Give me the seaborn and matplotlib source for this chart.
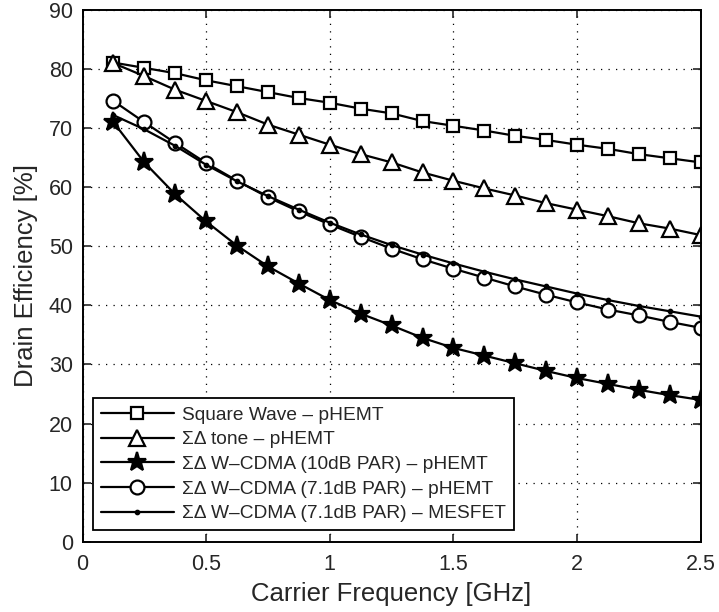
import numpy as np
import pandas as pd
import matplotlib
matplotlib.use("Agg")
import matplotlib.pyplot as plt
import seaborn as sns

freq = [0.125, 0.25, 0.375, 0.5, 0.625, 0.75, 0.875, 1.0, 1.125, 1.25,
        1.375, 1.5, 1.625, 1.75, 1.875, 2.0, 2.125, 2.25, 2.375, 2.5]

square_phemt = [81.1, 80.2, 79.3, 78.1, 77.1, 76.1, 75.1, 74.3, 73.3, 72.5,
                71.2, 70.4, 69.6, 68.7, 68.0, 67.2, 66.5, 65.6, 64.9, 64.2]
tone_phemt = [81.0, 78.8, 76.5, 74.6, 72.7, 70.6, 68.9, 67.2, 65.6, 64.2,
              62.5, 61.1, 59.8, 58.6, 57.3, 56.2, 55.1, 53.9, 53.0, 51.9]
wcdma10_phemt = [71.0, 64.2, 58.8, 54.2, 50.1, 46.6, 43.7, 40.9, 38.6, 36.6,
                 34.5, 32.8, 31.5, 30.2, 28.9, 27.7, 26.7, 25.7, 24.8, 24.0]
wcdma71_phemt = [74.6, 71.0, 67.5, 64.1, 61.1, 58.3, 55.9, 53.7, 51.6, 49.6,
                 47.8, 46.2, 44.7, 43.2, 41.8, 40.5, 39.3, 38.3, 37.2, 36.2]
wcdma71_mesfet = [72.2, 69.8, 67.0, 63.8, 61.0, 58.5, 56.2, 54.0, 52.0, 50.2,
                  48.6, 47.1, 45.7, 44.4, 43.2, 42.0, 40.9, 39.9, 39.0, 38.1]

labels = ["Square Wave \u2013 pHEMT",
          "\u03a3\u0394 tone \u2013 pHEMT",
          "\u03a3\u0394 W\u2013CDMA (10dB PAR) \u2013 pHEMT",
          "\u03a3\u0394 W\u2013CDMA (7.1dB PAR) \u2013 pHEMT",
          "\u03a3\u0394 W\u2013CDMA (7.1dB PAR) \u2013 MESFET"]

xticks = [0, 0.5, 1, 1.5, 2, 2.5]
xticklabels = ["0", "0.5", "1", "1.5", "2", "2.5"]
yticks = list(range(0, 91, 10))

sns.set_style("ticks")
plt.rcParams['font.family'] = ['Liberation Sans', 'DejaVu Sans']

fig = plt.figure(figsize=(7.19, 6.12), dpi=100)
ax = fig.add_axes([82.5/719, 1 - 541.7/612, (700.7-82.5)/719, (541.7-10)/612])

series = [square_phemt, tone_phemt, wcdma10_phemt, wcdma71_phemt, wcdma71_mesfet]
styles = [dict(marker='s', markersize=9, mfc='white'),
          dict(marker='^', markersize=11, mfc='white'),
          dict(marker='*', markersize=14, mfc='black'),
          dict(marker='o', markersize=10, mfc='white'),
          dict(marker='.', markersize=5, mfc='black')]

for vals, lab, st in zip(series, labels, styles):
    df = pd.DataFrame({"f": freq, "eff": vals})
    sns.lineplot(data=df, x="f", y="eff", ax=ax, color='black', linewidth=1.6,
                 label=lab, mec='black', mew=1.6, **st)

ax.set_xlim(0, 2.5)
ax.set_ylim(0, 90)
ax.set_xticks(xticks)
ax.set_xticklabels(xticklabels)
ax.set_yticks(yticks)
ax.grid(True, linestyle=(0, (1, 5)), color='black', linewidth=0.9)
ax.tick_params(direction='in', top=True, right=True, length=6, width=1.2,
               labelsize=15.5)
ax.tick_params(axis='x', pad=9)
ax.tick_params(axis='y', pad=7)
for s in ax.spines.values():
    s.set_linewidth(1.4)
    s.set_color('black')
    s.set_visible(True)
ax.set_xlabel("Carrier Frequency [GHz]", fontsize=18.5, labelpad=5)
ax.set_ylabel("Drain Efficiency [%]", fontsize=18.5, labelpad=8)

leg = ax.legend(loc='lower left', bbox_to_anchor=(0.017, 0.022), fontsize=13.8,
                frameon=True, fancybox=False, edgecolor='black', framealpha=1,
                handlelength=3.8, handletextpad=0.45, labelspacing=0.38,
                borderpad=0.4, borderaxespad=0)
leg.get_frame().set_linewidth(1.3)

fig.savefig("out.png", dpi=100)
